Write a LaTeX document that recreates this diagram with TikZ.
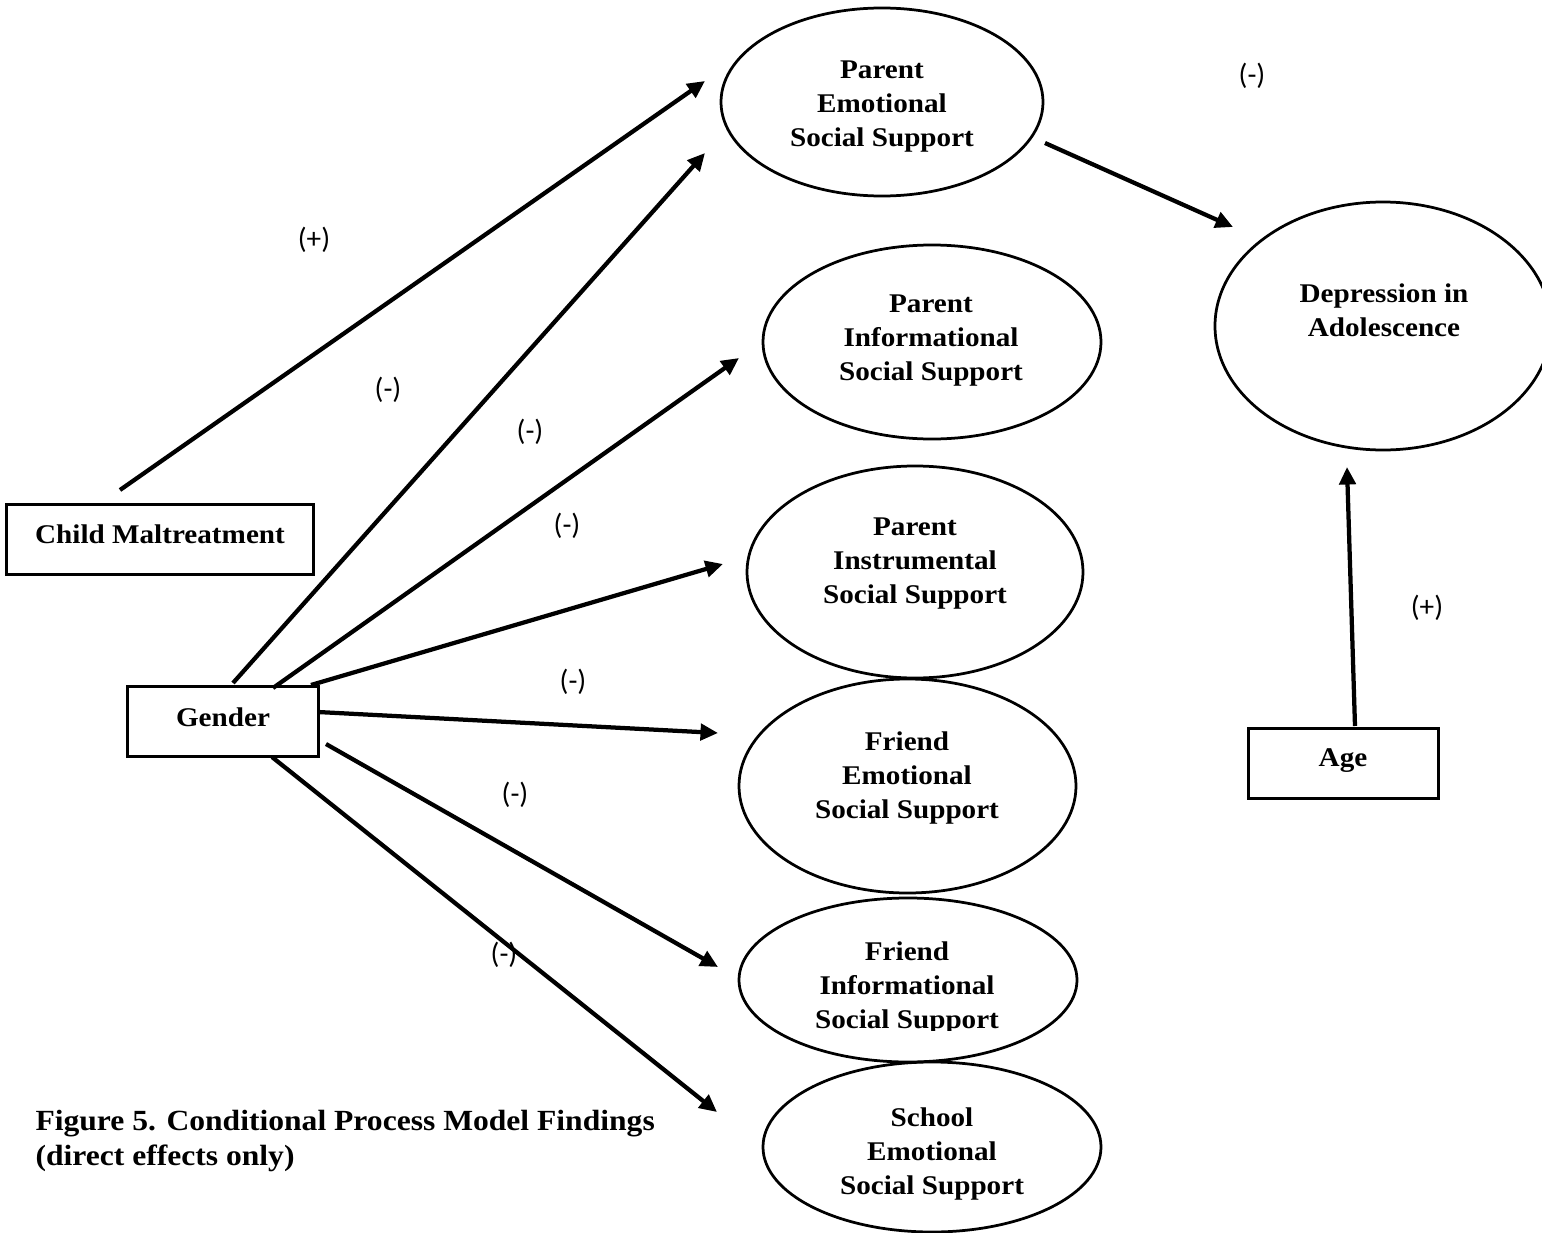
\documentclass[tikz,border=0pt]{standalone}
\usepackage{fontspec}
\setmainfont{Liberation Serif}[FakeStretch=1.08]
\newfontfamily\signfont{Carlito}
\usetikzlibrary{arrows.meta,shapes.geometric}
\begin{document}
\begin{tikzpicture}[x=0.4pt,y=-0.4pt,
  oval/.style={ellipse,draw,line width=1.1pt,inner sep=0pt},
  box/.style={rectangle,draw,line width=1.2pt,inner sep=0pt,minimum height=28pt},
  txt/.style={align=center,inner sep=0pt,font=\fontsize{10.8}{13.6}\selectfont\bfseries},
  sign/.style={inner sep=0pt,font=\signfont\fontsize{11.7}{14}\selectfont},
  arr/.style={line width=1.7pt,-{Triangle[length=7pt,width=6.5pt]}}]
\clip (0,0) rectangle (1542,1233);

% mediators and outcome
\node[oval,minimum width=128.8pt,minimum height=75.2pt] (pe)   at (882,102)  {};
\node[oval,minimum width=135.2pt,minimum height=77.6pt] (pinf) at (932,342)  {};
\node[oval,minimum width=134.4pt,minimum height=84.8pt] (pins) at (915,572)  {};
\node[oval,minimum width=134.8pt,minimum height=85.6pt] (fe)   at (907.5,786){};
\node[oval,minimum width=135.2pt,minimum height=65.6pt] (fi)   at (908,980)  {};
\node[oval,minimum width=135.2pt,minimum height=68pt]   (se)   at (932,1147) {};
\node[oval,minimum width=134.4pt,minimum height=99.2pt] (dep)  at (1383,326) {};

\node[txt] (pe-t)   at (882,107)  {Parent\\Emotional\\Social Support};
\node[txt] (pinf-t) at (931,341)  {Parent\\Informational\\Social Support};
\node[txt] (pins-t) at (915,563.5){Parent\\Instrumental\\Social Support};
\node[txt] (fe-t)   at (907,778)  {Friend\\Emotional\\Social Support};
\begin{scope}
  \clip (700,900) rectangle (1120,1030);
  \node[txt] (fi-t) at (907,988) {Friend\\Informational\\Social Support};
\end{scope}
\node[txt] (se-t)   at (932,1154) {School\\Emotional\\Social Support};
\node[txt] (dep-t)  at (1384,310) {Depression in\\Adolescence};

% predictors
\node[box,minimum width=122.4pt] (cm)     at (160,539)  {};
\node[box,minimum width=76pt]    (gender) at (223,721)  {};
\node[box,minimum width=76pt]    (age)    at (1343,763) {};
\node[txt] (cm-t)     at (160,534)  {Child Maltreatment};
\node[txt] (gender-t) at (223,717)  {Gender};
\node[txt] (age-t)    at (1343,761) {Age};

% connector end points
\coordinate (cm-out)   at (120,490);
\coordinate (g-out-1)  at (233,683);
\coordinate (g-out-2)  at (273,688);
\coordinate (g-out-3)  at (311,685);
\coordinate (g-out-4)  at (318,712);
\coordinate (g-out-5)  at (326,744);
\coordinate (g-out-6)  at (272,757);
\coordinate (pe-out)   at (1045,143);
\coordinate (age-out)  at (1355,726);
\coordinate (pe-in-a)  at (705,81);
\coordinate (pe-in-b)  at (705,153);
\coordinate (pinf-in)  at (739,358);
\coordinate (pins-in)  at (723,564);
\coordinate (fe-in)    at (718,733);
\coordinate (fi-in)    at (718,967);
\coordinate (se-in)    at (717,1112);
\coordinate (dep-in-a) at (1233,227);
\coordinate (dep-in-b) at (1347,467);

% paths
\draw[arr] (cm-out)  -- (pe-in-a);
\draw[arr] (g-out-1) -- (pe-in-b);
\draw[arr] (g-out-2) -- (pinf-in);
\draw[arr] (g-out-3) -- (pins-in);
\draw[arr] (g-out-4) -- (fe-in);
\draw[arr] (g-out-5) -- (fi-in);
\draw[arr] (g-out-6) -- (se-in);
\draw[arr] (pe-out)  -- (dep-in-a);
\draw[arr] (age-out) -- (dep-in-b);

% signs of the effects
\node[sign] (s1) at (314,240)  {(+)};
\node[sign] (s2) at (388,390)  {(-)};
\node[sign] (s3) at (530,432)  {(-)};
\node[sign] (s4) at (567,526)  {(-)};
\node[sign] (s5) at (573,682)  {(-)};
\node[sign] (s6) at (515,795)  {(-)};
\node[sign] (s7) at (504,955)  {(-)};
\node[sign] (s8) at (1252,76)  {(-)};
\node[sign] (s9) at (1427,608) {(+)};

% caption
\node[anchor=north west,align=left,inner sep=0pt,
      font=\fontsize{11.7}{14}\selectfont\bfseries] (caption) at (35,1110)
  {Figure 5. Conditional Process Model Findings\\(direct effects only)};
\end{tikzpicture}
\end{document}
